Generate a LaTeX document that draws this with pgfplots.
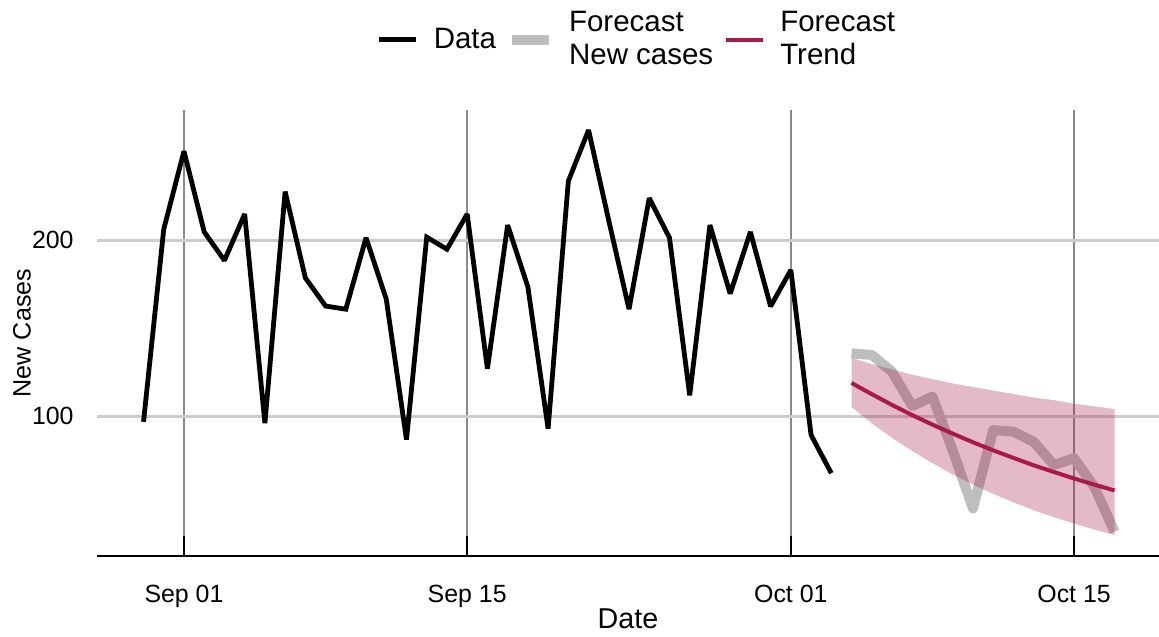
\documentclass[border=0pt]{standalone}
\usepackage{fontspec}
\setmainfont{Liberation Sans}
\usepackage{pgfplots}
\pgfplotsset{compat=1.18}

\definecolor{trendred}{RGB}{168,26,72}
\definecolor{fcgray}{RGB}{190,190,190}
\definecolor{hgrid}{RGB}{204,204,204}
\definecolor{vgrid}{RGB}{138,138,138}

\begin{document}
\begin{tikzpicture}
\useasboundingbox (0,0) rectangle (579.5bp,318.5bp);
\begin{axis}[
  at={(48.5bp,40.5bp)}, anchor=south west,
  scale only axis, width=531bp, height=223bp,
  xmin=-4.3, xmax=48.2, ymin=20.45, ymax=273.9,
  axis x line*=bottom, axis y line*=left,
  x axis line style={black, line width=1bp, -},
  y axis line style={draw=none, -},
  xtick={0,14,30,44},
  xticklabels={Sep 01,Sep 15,Oct 01,Oct 15},
  ytick={100,200},
  tick align=inside,
  xtick pos=bottom,
  major tick length=10bp,
  xtick style={black, line width=1bp},
  ytick style={draw=none},
  xmajorgrids, ymajorgrids,
  x grid style={vgrid, line width=1bp},
  y grid style={hgrid, line width=1.5bp},
  /pgf/number format/assume math mode=true,
  ticklabel style={font=\fontsize{12.5}{14}\selectfont},
  xticklabel style={yshift=-11bp},
  yticklabel style={xshift=-8.2bp},
  xlabel={Date},
  xlabel style={at={(axis description cs:0.5,0)}, anchor=north,
    yshift=-23bp, font=\fontsize{14.4}{16}\selectfont},
  ylabel={New Cases},
  ylabel style={at={([xshift=-37.5bp]axis description cs:0,0.5)},
    anchor=center, font=\fontsize{12.6}{15}\selectfont},
  legend columns=3,
  legend image code/.code={\draw[#1] (0bp,0bp) -- (18.5bp,0bp);},
  legend style={
    at={(axis description cs:0.5094,1.158)}, anchor=center,
    draw=none, fill=none,
    font=\fontsize{14.8}{16.5}\selectfont,
    cells={align=left, anchor=west},
    /tikz/every odd column/.append style={column sep=5.5bp},
    /tikz/every even column/.append style={column sep=3.5bp},
  },
]
% legend entries
\addlegendimage{black, line width=2.4bp}
\addlegendentry{Data}
\addlegendimage{fcgray, line width=5bp}
\addlegendentry{Forecast\\New cases}
\addlegendimage{trendred, line width=2bp}
\addlegendentry{Forecast\\Trend}

% forecast of new cases (day 0 = Sep 01)
\addplot[forget plot, fcgray, line width=5bp, line join=round] coordinates {
  (33,135.6) (34,134.7) (35,125.2) (36,105.7) (37,111.0) (38,80.5)
  (39,47.5) (40,92.0) (41,91.1) (42,85.4) (43,72.2) (44,76.0)
  (45,59.8) (46,34.3)
};

% trend interval
\addplot[forget plot, draw=none, fill=trendred, fill opacity=0.3] coordinates {
  (33,133.0) (34,129.5) (35,126.5) (36,123.5) (37,121.0) (38,118.5)
  (39,116.5) (40,114.5) (41,112.5) (42,110.5) (43,109.0) (44,107.0)
  (45,105.5) (46,104.0)
  (46,32.4) (45,35.5) (44,38.9) (43,42.5) (42,46.5) (41,51.0)
  (40,55.8) (39,61.1) (38,66.8) (37,73.2) (36,80.1) (35,87.6)
  (34,95.9) (33,105.0)
};

% trend
\addplot[forget plot, trendred, line width=2bp] coordinates {
  (33,118.8) (34,112.4) (35,106.3) (36,100.5) (37,95.1) (38,90.0)
  (39,85.1) (40,80.5) (41,76.2) (42,72.0) (43,68.2) (44,64.5)
  (45,61.0) (46,57.7)
};

% observed new cases
\addplot[forget plot, black, line width=2.4bp, line join=miter, miter limit=2] coordinates {
  (-2,96.7) (-1,206.2) (0,250.5) (1,204.6) (2,188.4) (3,214.8)
  (4,95.9) (5,227.5) (6,178.5) (7,162.5) (8,160.7) (9,201.3)
  (10,166.4) (11,86.6) (12,201.6) (13,194.8) (14,214.8) (15,126.8)
  (16,208.5) (17,173.4) (18,92.8) (19,233.5) (20,262.5) (21,211.0)
  (22,160.7) (23,223.8) (24,201.3) (25,111.7) (26,208.5) (27,169.5)
  (28,204.6) (29,162.3) (30,183.0) (31,89.2) (32,67.5)
};
\end{axis}
\end{tikzpicture}
\end{document}
